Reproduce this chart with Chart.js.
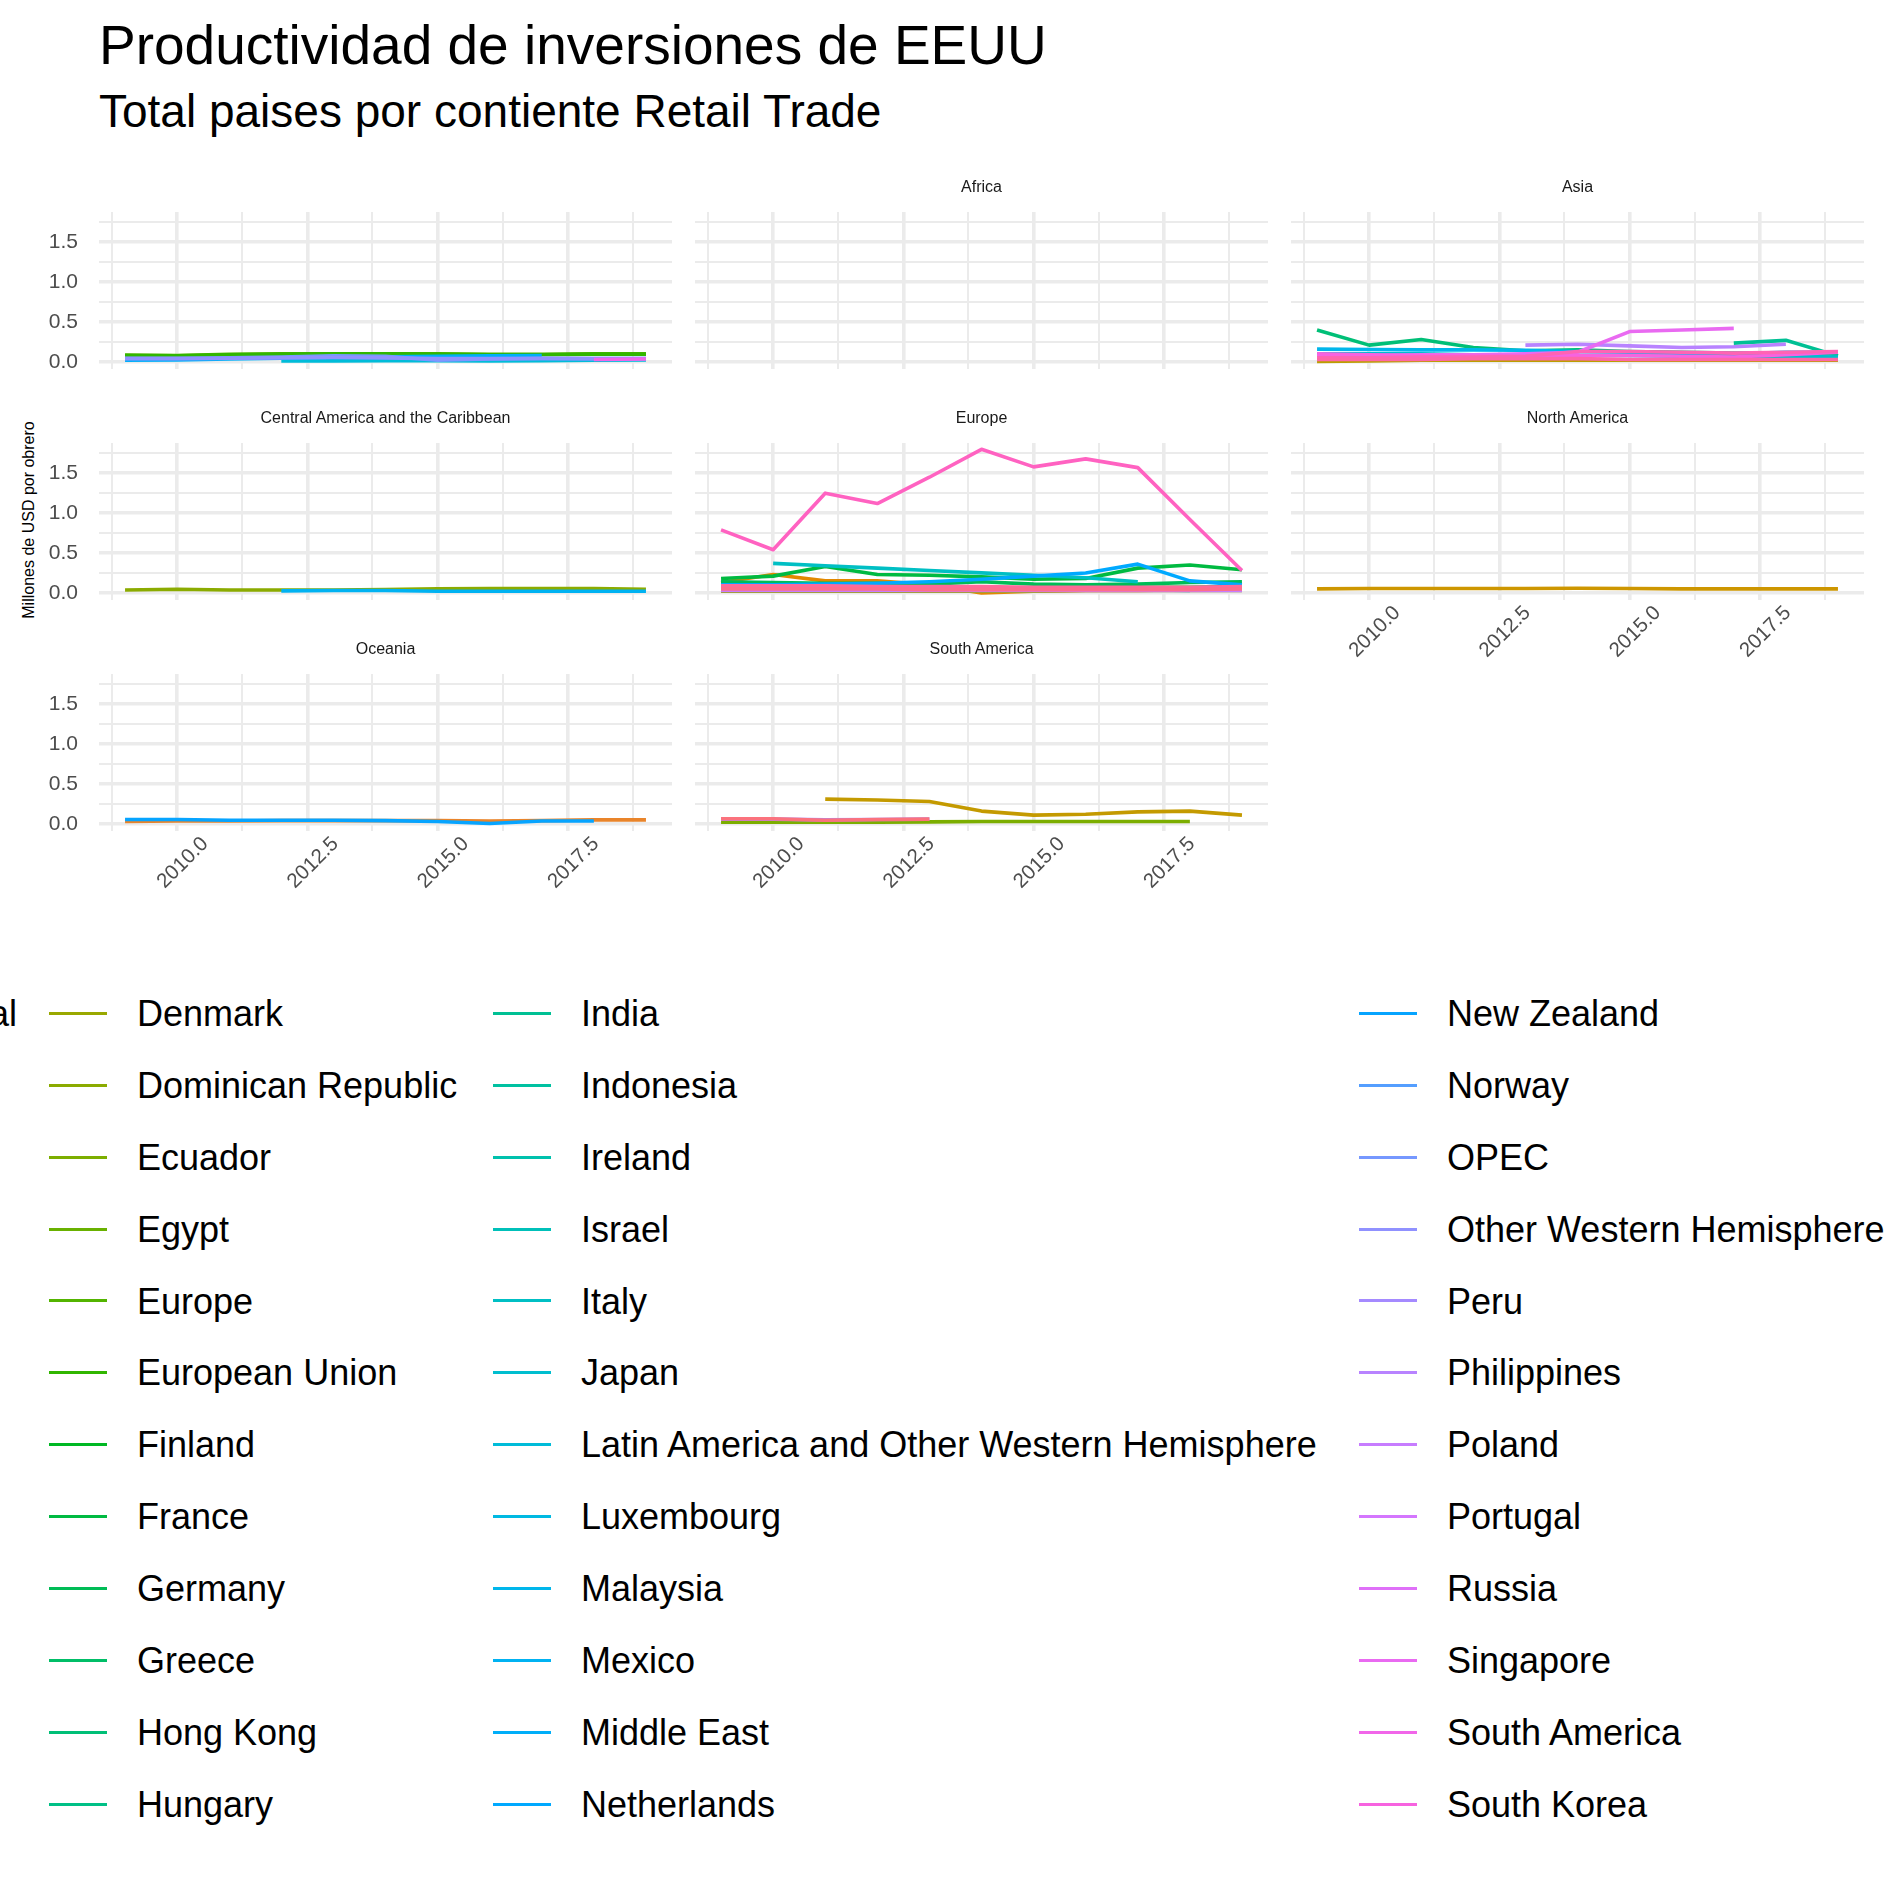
<!DOCTYPE html>
<html><head><meta charset="utf-8">
<script src="https://cdn.jsdelivr.net/npm/chart.js@4/dist/chart.umd.min.js"></script>
<style>
html,body{margin:0;padding:0;background:#fff;width:1887px;height:1887px;overflow:hidden;}
#root{position:relative;width:1887px;height:1887px;overflow:hidden;font-family:"Liberation Sans",Arial,Helvetica,sans-serif;background:#fff;}
.t{position:absolute;white-space:nowrap;line-height:1;}
canvas{position:absolute;}
</style></head><body><div id="root"></div>
<script>
// ---------------- DATA ----------------
const years = [2009, 2010, 2011, 2012, 2013, 2014, 2015, 2016, 2017, 2018, 2019];
const xTickValues = [2010, 2012.5, 2015, 2017.5];
const xTickLabels = ['2010.0', '2012.5', '2015.0', '2017.5'];
const xMinorValues = [2008.75, 2011.25, 2013.75, 2016.25, 2018.75];
const yTickValues = [0, 0.5, 1, 1.5];
const yTickLabels = ['0.0', '0.5', '1.0', '1.5'];
const yMinorValues = [0.25, 0.75, 1.25, 1.75];

const titleText = 'Productividad de inversiones de EEUU';
const subtitleText = 'Total paises por contiente Retail Trade';
const yAxisTitle = 'Millones  de USD por obrero';
const legendTitleVisible = 'al';

const panelTitles = ['', 'Africa', 'Asia', 'Central America and the Caribbean', 'Europe', 'North America', 'Oceania', 'South America'];

const legendColA = ['Denmark', 'Dominican Republic', 'Ecuador', 'Egypt', 'Europe', 'European Union', 'Finland', 'France', 'Germany', 'Greece', 'Hong Kong', 'Hungary'];
const legendColB = ['India', 'Indonesia', 'Ireland', 'Israel', 'Italy', 'Japan', 'Latin America and Other Western Hemisphere', 'Luxembourg', 'Malaysia', 'Mexico', 'Middle East', 'Netherlands'];
const legendColC = ['New Zealand', 'Norway', 'OPEC', 'Other Western Hemisphere', 'Peru', 'Philippines', 'Poland', 'Portugal', 'Russia', 'Singapore', 'South America', 'South Korea'];

// series values (millones USD por obrero), 2009..2019
const europeAgg       = [0.085, 0.08, 0.095, 0.10, 0.10, 0.10, 0.10, 0.095, 0.095, 0.10, 0.10];
const europeanUnion   = [0.08, 0.075, 0.09, 0.095, 0.10, 0.10, 0.095, 0.09, 0.09, 0.095, 0.095];
const latamOWH        = [null, null, null, 0.01, 0.012, 0.015, 0.015, 0.012, 0.015, 0.02, 0.025];
const middleEast      = [0.02, 0.025, 0.035, 0.045, 0.055, 0.065, 0.07, 0.075, 0.08, null, null];
const opec            = [0.045, 0.045, 0.05, 0.06, 0.075, 0.07, 0.02, 0.035, 0.04, 0.04, 0.04];
const otherWH         = [0.04, 0.04, 0.045, 0.05, 0.055, 0.05, 0.04, 0.04, 0.045, 0.04, 0.04];
const southAmericaAgg = [null, null, null, null, null, null, null, null, null, 0.03, 0.035];

const china        = [0.005, 0.01, 0.02, 0.02, 0.02, 0.02, 0.02, 0.02, 0.02, 0.02, 0.02];
const hongKong     = [0.40, 0.21, 0.28, 0.18, 0.14, 0.15, 0.13, 0.12, 0.11, 0.11, 0.10];
const india        = [null, null, null, null, null, null, null, null, 0.235, 0.27, 0.075];
const japan        = [0.10, 0.10, 0.10, 0.09, 0.09, 0.08, 0.08, 0.07, 0.07, 0.07, 0.06];
const malaysia     = [0.16, 0.155, 0.15, 0.15, 0.145, 0.13, 0.12, 0.11, 0.10, 0.12, 0.12];
const philippines  = [null, null, null, null, 0.21, 0.22, 0.20, 0.18, 0.19, 0.22, null];
const singapore    = [0.08, 0.08, 0.09, 0.09, 0.10, 0.12, 0.38, 0.40, 0.42, null, null];
const southKorea   = [0.10, 0.09, 0.08, 0.08, 0.07, 0.08, 0.08, 0.07, 0.06, 0.09, 0.12];
const taiwan       = [0.05, 0.05, 0.06, 0.06, 0.07, 0.13, 0.13, 0.12, 0.11, 0.12, 0.13];
const thailand     = [0.03, 0.03, 0.03, 0.04, 0.04, 0.04, 0.03, 0.03, 0.03, 0.03, 0.03];

const dominicanRep = [0.035, 0.045, 0.035, 0.035, 0.035, 0.04, 0.05, 0.055, 0.055, 0.055, 0.045];
const mexico       = [null, null, null, 0.025, 0.03, 0.03, 0.02, 0.02, 0.02, 0.02, 0.02];

const austria      = [0.13, 0.23, 0.15, 0.15, 0.10, 0.0, 0.02, 0.03, 0.03, 0.04, 0.05];
const denmark      = [0.02, 0.02, 0.02, 0.02, 0.02, 0.02, 0.02, 0.03, 0.03, 0.03, 0.03];
const finland      = [0.08, 0.08, 0.07, 0.07, 0.07, 0.06, 0.06, 0.06, 0.07, 0.07, 0.08];
const france       = [0.18, 0.21, 0.33, 0.23, 0.22, 0.20, 0.17, 0.18, 0.31, 0.35, 0.29];
const germany      = [0.14, 0.13, 0.12, 0.12, 0.11, 0.14, 0.11, 0.10, 0.11, 0.13, 0.14];
const ireland      = [0.04, 0.04, 0.04, 0.05, 0.05, 0.05, 0.05, 0.04, 0.04, 0.03, null];
const italy        = [null, 0.37, 0.34, 0.31, 0.28, 0.25, 0.22, 0.19, 0.14, null, null];
const netherlands  = [0.10, 0.10, 0.11, 0.12, 0.14, 0.17, 0.21, 0.25, 0.36, 0.15, 0.10];
const norway       = [0.06, 0.06, 0.06, 0.06, 0.05, 0.05, 0.05, 0.05, 0.05, 0.05, 0.06];
const poland       = [0.03, 0.03, 0.03, 0.03, 0.03, 0.03, 0.03, 0.03, 0.03, 0.03, 0.03];
const switzerland  = [0.79, 0.54, 1.25, 1.12, 1.45, 1.80, 1.58, 1.68, 1.57, 0.92, 0.28];
const turkey       = [0.09, 0.09, 0.09, 0.08, 0.08, 0.08, 0.07, 0.07, 0.07, 0.07, 0.08];
const unitedKingdom= [0.05, 0.05, 0.05, 0.05, 0.04, 0.04, 0.04, 0.04, 0.04, 0.04, 0.05];

const canada       = [0.05, 0.055, 0.055, 0.055, 0.055, 0.058, 0.055, 0.05, 0.05, 0.05, 0.05];

const australia    = [0.03, 0.035, 0.035, 0.04, 0.04, 0.04, 0.04, 0.035, 0.04, 0.05, 0.05];
const newZealand   = [0.055, 0.055, 0.045, 0.045, 0.045, 0.04, 0.03, 0.005, 0.035, 0.035, null];

const chile        = [null, null, 0.31, 0.30, 0.28, 0.16, 0.11, 0.12, 0.15, 0.16, 0.11];
const ecuador      = [0.02, 0.02, 0.02, 0.02, 0.025, 0.03, 0.03, 0.03, 0.03, 0.03, null];
const peru         = [0.06, 0.06, 0.05, 0.055, 0.06, null, null, null, null, null, null];
const venezuela    = [0.065, 0.065, 0.045, 0.055, 0.06, null, null, null, null, null, null];

const seriesValues = {
  'Europe': europeAgg, 'European Union': europeanUnion,
  'Latin America and Other Western Hemisphere': latamOWH, 'Middle East': middleEast,
  'OPEC': opec, 'Other Western Hemisphere': otherWH, 'South America': southAmericaAgg,
  'China': china, 'Hong Kong': hongKong, 'India': india, 'Japan': japan, 'Malaysia': malaysia,
  'Philippines': philippines, 'Singapore': singapore, 'South Korea': southKorea,
  'Taiwan': taiwan, 'Thailand': thailand,
  'Dominican Republic': dominicanRep, 'Mexico': mexico,
  'Austria': austria, 'Denmark': denmark, 'Finland': finland, 'France': france, 'Germany': germany,
  'Ireland': ireland, 'Italy': italy, 'Netherlands': netherlands, 'Norway': norway, 'Poland': poland,
  'Switzerland': switzerland, 'Turkey': turkey, 'United Kingdom': unitedKingdom,
  'Canada': canada, 'Australia': australia, 'New Zealand': newZealand,
  'Chile': chile, 'Ecuador': ecuador, 'Peru': peru, 'Venezuela': venezuela
};

const panelMembers = [
  ['Europe', 'European Union', 'Latin America and Other Western Hemisphere', 'Middle East', 'OPEC', 'Other Western Hemisphere', 'South America'],
  [],
  ['China', 'Hong Kong', 'India', 'Japan', 'Malaysia', 'Philippines', 'Singapore', 'South Korea', 'Taiwan', 'Thailand'],
  ['Dominican Republic', 'Mexico'],
  ['Austria', 'Denmark', 'Finland', 'France', 'Germany', 'Ireland', 'Italy', 'Netherlands', 'Norway', 'Poland', 'Switzerland', 'Turkey', 'United Kingdom'],
  ['Canada'],
  ['Australia', 'New Zealand'],
  ['Chile', 'Ecuador', 'Peru', 'Venezuela']
];

// ---------------- STYLE ----------------
const FONT = '"Liberation Sans", Arial, Helvetica, sans-serif';
const LINE_W = 3.6;
const GRID_MAJOR = 3.6, GRID_MINOR = 2.0;
const paletteSize = 56;
const firstLegendIndex = 12;
const hiddenPaletteIndex = { 'Australia': 3, 'Austria': 4, 'Canada': 7, 'Chile': 8, 'China': 9,
  'Switzerland': 50, 'Taiwan': 51, 'Thailand': 52, 'Turkey': 53, 'United Kingdom': 54, 'Venezuela': 55 };
const legendAll = legendColA.concat(legendColB, legendColC);

function hueColor(h) {
  const c = 100, l = 65;
  const hr = h * Math.PI / 180;
  const U = c * Math.cos(hr), V = c * Math.sin(hr);
  const Xn = 95.047, Yn = 100.0, Zn = 108.883;
  const den = Xn + 15 * Yn + 3 * Zn;
  const un = 4 * Xn / den, vn = 9 * Yn / den;
  const Y = Yn * Math.pow((l + 16) / 116, 3);
  const u = U / (13 * l) + un, v = V / (13 * l) + vn;
  const X = 9 * Y * u / (4 * v);
  const Z = 3 * Y / v - X / 3 - 5 * Y;
  const x = X / 100, y = Y / 100, z = Z / 100;
  const lin = [3.240479 * x - 1.537150 * y - 0.498535 * z,
              -0.969256 * x + 1.875992 * y + 0.041556 * z,
               0.055648 * x - 0.204043 * y + 1.057311 * z];
  const out = lin.map(t => {
    let g = t <= 0.0031308 ? 12.92 * t : 1.055 * Math.pow(t, 1 / 2.4) - 0.055;
    g = Math.max(0, Math.min(1, g));
    return Math.round(g * 255).toString(16).padStart(2, '0');
  });
  return '#' + out.join('');
}
function paletteIndexOf(name) {
  const i = legendAll.indexOf(name);
  return i >= 0 ? firstLegendIndex + i : hiddenPaletteIndex[name];
}
function colorOf(name) { return hueColor(15 + 360 * paletteIndexOf(name) / paletteSize); }

const root = document.getElementById('root');
function addText(txt, css) {
  const d = document.createElement('div');
  d.className = 't';
  d.textContent = txt;
  Object.assign(d.style, css);
  root.appendChild(d);
  return d;
}

// titles
addText(titleText, { left: '99px', top: '18px', fontSize: '55px', color: '#000' });
addText(subtitleText, { left: '99px', top: '88px', fontSize: '46px', color: '#000' });
addText(yAxisTitle, { left: '29px', top: '520px', fontSize: '16px', color: '#000', transform: 'translate(-50%,-50%) rotate(-90deg)' });

// panels
const colLeft = [99, 695, 1291];
const rowTop = [212, 443, 674];
const plotW = 573, plotH = 157;
const xMin = 2008.5, xMax = 2019.5;
const yMin = -0.0895, yMax = 1.879;
const xGridAll = xMinorValues.concat(xTickValues).sort((a, b) => a - b);
const yGridAll = yMinorValues.concat(yTickValues).sort((a, b) => a - b);
const isMajor = (arr, v) => arr.some(m => Math.abs(m - v) < 1e-6);

function makePanel(p) {
  const row = Math.floor(p / 3), col = p % 3;
  const padL = 100, padT = 60, padR = 20, padB = 80;
  const cv = document.createElement('canvas');
  cv.width = padL + plotW + padR; cv.height = padT + plotH + padB;
  cv.style.left = (colLeft[col] - padL) + 'px';
  cv.style.top = (rowTop[row] - padT) + 'px';
  cv.style.width = cv.width + 'px'; cv.style.height = cv.height + 'px';
  root.appendChild(cv);

  if (panelTitles[p]) {
    addText(panelTitles[p], { left: (colLeft[col] + plotW / 2) + 'px', top: (rowTop[row] - 25 - 7.8) + 'px',
      fontSize: '16px', color: '#1a1a1a', transform: 'translateX(-50%)' });
  }
  const showX = (p === 5 || p === 6 || p === 7);
  const showY = (col === 0);
  const datasets = panelMembers[p].map(name => ({
    label: name,
    data: years.map((yr, i) => ({ x: yr, y: seriesValues[name][i] })),
    borderColor: colorOf(name), backgroundColor: colorOf(name),
    borderWidth: LINE_W, pointRadius: 0, pointHoverRadius: 0, tension: 0, fill: false,
    borderCapStyle: 'butt', borderJoinStyle: 'round', spanGaps: false,
    order: -paletteIndexOf(name)
  }));
  new Chart(cv, {
    type: 'line',
    data: { datasets },
    options: {
      responsive: false, animation: false, devicePixelRatio: 1, events: [],
      layout: { padding: { left: 0, top: padT, right: padR, bottom: 0 } },
      plugins: { legend: { display: false }, tooltip: { enabled: false }, title: { display: false } },
      scales: {
        x: {
          type: 'linear', min: xMin, max: xMax,
          afterBuildTicks: s => { s.ticks = xGridAll.map(v => ({ value: v })); },
          afterFit: s => { s.height = padB; },
          border: { display: false },
          grid: { color: '#ebebeb', drawTicks: false,
                  lineWidth: ctx => (ctx.tick && isMajor(xTickValues, ctx.tick.value)) ? GRID_MAJOR : GRID_MINOR },
          ticks: {
            display: showX, autoSkip: false, maxRotation: 45, minRotation: 45,
            padding: 1, labelOffset: 28, color: '#4d4d4d', font: { family: FONT, size: 20.5 },
            callback: v => { const i = xTickValues.findIndex(m => Math.abs(m - v) < 1e-6); return i >= 0 ? xTickLabels[i] : ''; }
          }
        },
        y: {
          type: 'linear', min: yMin, max: yMax,
          afterBuildTicks: s => { s.ticks = yGridAll.map(v => ({ value: v })); },
          afterFit: s => { s.width = padL; },
          border: { display: false },
          grid: { color: '#ebebeb', drawTicks: false,
                  lineWidth: ctx => (ctx.tick && isMajor(yTickValues, ctx.tick.value)) ? GRID_MAJOR : GRID_MINOR },
          ticks: {
            display: showY, autoSkip: false, padding: 21, color: '#4d4d4d', font: { family: FONT, size: 21 },
            callback: v => { const i = yTickValues.findIndex(m => Math.abs(m - v) < 1e-6); return i >= 0 ? yTickLabels[i] : ''; }
          }
        }
      }
    }
  });
}
for (let p = 0; p < panelTitles.length; p++) makePanel(p);

// legend (clipped at the page edges like the reference)
const legendCols = [legendColA, legendColB, legendColC];
const legendKeyLeft = [49, 493, 1359];
const keyW = 58, textGap = 88, keyH = 3.4;
const rowY = i => 1013.5 + 71.9 * i;
addText(legendTitleVisible, { right: (1887 - 17) + 'px', top: (rowY(0) - 17.6) + 'px', fontSize: '36px', color: '#000' });
legendCols.forEach((names, c) => {
  names.forEach((name, r) => {
    const k = document.createElement('div');
    Object.assign(k.style, { position: 'absolute', left: legendKeyLeft[c] + 'px', top: Math.round(rowY(r) - keyH / 2) + 'px',
      width: keyW + 'px', height: keyH + 'px', background: colorOf(name) });
    root.appendChild(k);
    addText(name, { left: (legendKeyLeft[c] + textGap) + 'px', top: (rowY(r) - 17.6) + 'px', fontSize: '36px', color: '#000' });
  });
});
</script></body></html>
